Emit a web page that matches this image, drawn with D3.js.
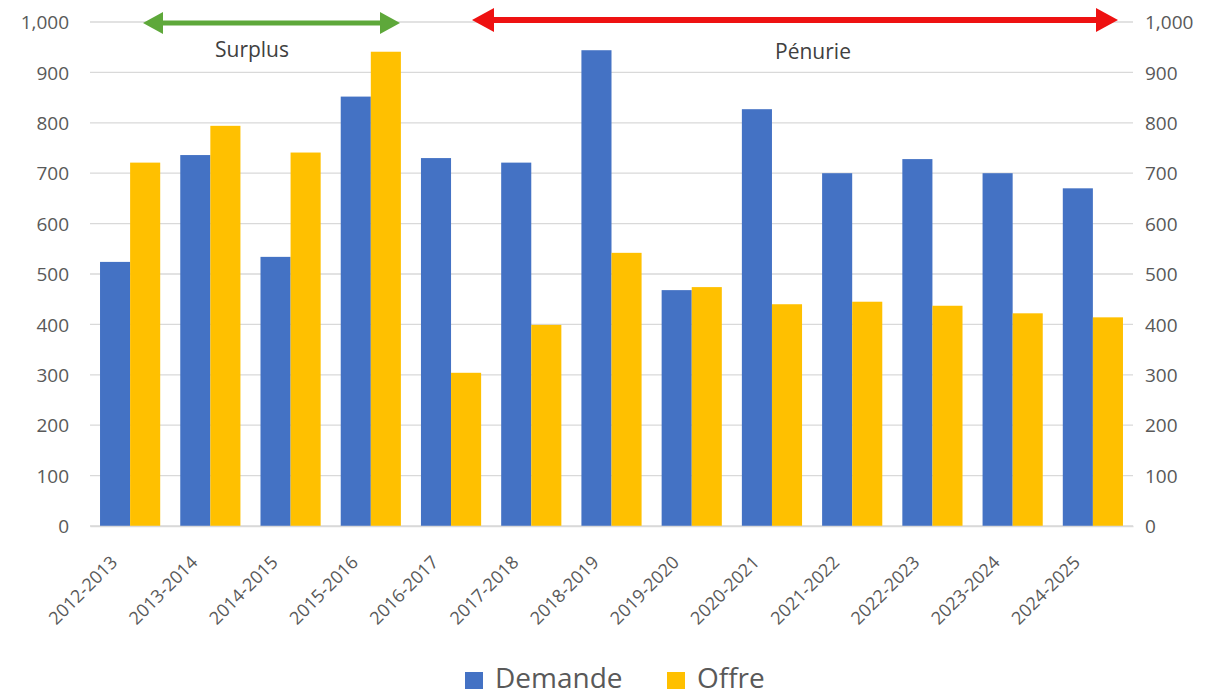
<!DOCTYPE html>
<html>
<head>
<meta charset="utf-8">
<script src="https://cdn.jsdelivr.net/npm/d3@7"></script>
<style>
body { margin: 0; background: #fff; }
text { font-family: "Open Sans", sans-serif; fill: #595959; }
</style>
</head>
<body>
<div id="chart"></div>
<script>
var categories = ["2012-2013","2013-2014","2014-2015","2015-2016","2016-2017","2017-2018","2018-2019","2019-2020","2020-2021","2021-2022","2022-2023","2023-2024","2024-2025"];
var demande = [524, 736, 534, 852, 730, 721, 944, 468, 827, 700, 728, 700, 670];
var offre = [721, 794, 741, 941, 304, 399, 542, 474, 440, 445, 437, 422, 414];
var seriesNames = ["Demande", "Offre"];
var yTicks = [0,100,200,300,400,500,600,700,800,900,1000];

var W = 1219, H = 695;
var margin = {top: 22, right: 86, bottom: 169, left: 90};
var width = W - margin.left - margin.right,
    height = H - margin.top - margin.bottom;
var colors = {Demande: "#4472C4", Offre: "#FFC000"};

var data = categories.map(function(c, i) {
  return {cat: c, Demande: demande[i], Offre: offre[i]};
});

var svg = d3.select("#chart").append("svg")
  .attr("width", W).attr("height", H)
  .append("g")
  .attr("transform", "translate(" + margin.left + "," + margin.top + ")");

var x0 = d3.scaleBand().domain(categories).range([0, width]).paddingInner(0.25).paddingOuter(0.125);
var x1 = d3.scaleBand().domain(seriesNames).range([0, x0.bandwidth()]);
var y = d3.scaleLinear().domain([0, 1000]).range([height, 0]);
var fmt = d3.format(",");

// gridlines
svg.append("g").selectAll("line").data(yTicks).enter().append("line")
  .attr("x1", 0).attr("x2", width)
  .attr("y1", function(d) { return y(d); }).attr("y2", function(d) { return y(d); })
  .attr("stroke", "#d9d9d9").attr("stroke-width", 1.3);

// left axis
var la = svg.append("g").call(d3.axisLeft(y).tickValues(yTicks).tickFormat(fmt).tickSize(0).tickPadding(21));
la.select(".domain").remove();
la.selectAll("text").style("font-size", "19px").attr("fill", "#595959").attr("dy", "0.35em");

// right axis
var ra = svg.append("g").attr("transform", "translate(" + width + ",0)")
  .call(d3.axisRight(y).tickValues(yTicks).tickFormat(fmt).tickSize(0).tickPadding(12));
ra.select(".domain").remove();
ra.selectAll("text").style("font-size", "19px").attr("fill", "#595959").attr("dy", "0.35em");

// bars
var groups = svg.append("g").selectAll("g").data(data).enter().append("g")
  .attr("transform", function(d) { return "translate(" + x0(d.cat) + ",0)"; });
groups.selectAll("rect")
  .data(function(d) { return seriesNames.map(function(k) { return {key: k, value: d[k]}; }); })
  .enter().append("rect")
  .attr("x", function(d) { return x1(d.key); })
  .attr("width", x1.bandwidth())
  .attr("y", function(d) { return y(d.value); })
  .attr("height", function(d) { return height - y(d.value); })
  .attr("fill", function(d) { return colors[d.key]; });

// x axis labels
var xa = svg.append("g").attr("transform", "translate(0," + height + ")")
  .call(d3.axisBottom(x0).tickSize(0));
xa.select(".domain").attr("stroke", "#d9d9d9").attr("stroke-width", 1.3);
xa.selectAll("text")
  .style("font-size", "18px").attr("fill", "#595959")
  .style("text-anchor", "end")
  .attr("transform", "translate(-16,33) rotate(-45)")
  .attr("dy", "0.35em").attr("dx", "0").attr("y", 0).attr("x", 0);

// annotation arrows
function arrow(xa, xb, yy, col, thick, head) {
  var g = svg.append("g");
  g.append("line").attr("x1", xa + head * 0.8).attr("x2", xb - head * 0.8)
    .attr("y1", yy).attr("y2", yy).attr("stroke", col).attr("stroke-width", thick);
  g.append("path").attr("fill", col)
    .attr("d", "M" + xa + "," + yy + "L" + (xa + head) + "," + (yy - head * 0.55) + "L" + (xa + head) + "," + (yy + head * 0.55) + "Z");
  g.append("path").attr("fill", col)
    .attr("d", "M" + xb + "," + yy + "L" + (xb - head) + "," + (yy - head * 0.55) + "L" + (xb - head) + "," + (yy + head * 0.55) + "Z");
}
arrow(143 - margin.left, 400 - margin.left, 23 - margin.top, "#5EA83A", 5, 20);
arrow(472 - margin.left, 1118 - margin.left, 20 - margin.top, "#EE1111", 6, 22);

svg.append("text").attr("x", 252 - margin.left).attr("y", 57 - margin.top)
  .attr("text-anchor", "middle").style("font-size", "21px").style("fill", "#404040").text("Surplus");
svg.append("text").attr("x", 813 - margin.left).attr("y", 59 - margin.top)
  .attr("text-anchor", "middle").style("font-size", "21px").style("fill", "#404040").text("Pénurie");

// legend
var leg = d3.select("svg").append("g").attr("transform", "translate(0,680)");
var lx = [465, 667];
seriesNames.forEach(function(k, i) {
  leg.append("rect").attr("x", lx[i]).attr("y", -8).attr("width", 18).attr("height", 17).attr("fill", colors[k]);
  leg.append("text").attr("x", lx[i] + 30).attr("y", 8).style("font-size", "28px").text(k);
});
</script>
</body>
</html>
